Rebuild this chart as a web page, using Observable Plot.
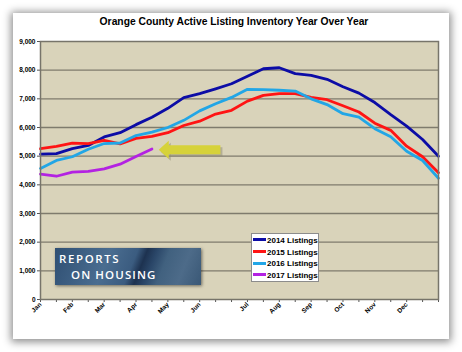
<!DOCTYPE html>
<html><head><meta charset="utf-8">
<script src="https://cdn.jsdelivr.net/npm/d3@7"></script>
<script src="https://cdn.jsdelivr.net/npm/@observablehq/plot@0.6"></script>
<style>
html,body{margin:0;padding:0;background:#fff;}
#wrap{position:relative;width:462px;height:352px;overflow:hidden;font-family:"Liberation Sans",Arial,sans-serif;}
#card{position:absolute;left:13px;top:13px;width:436px;height:326px;background:#fff;box-shadow:0 1px 8px 2px rgba(0,0,0,0.45);}
#title{position:relative;height:30px;box-sizing:border-box;padding-top:15px;padding-left:6px;text-align:center;font-size:10.3px;line-height:13px;font-weight:bold;color:#000;}
#chart{position:relative;}
#chart svg{display:block;overflow:visible;background:transparent;}
#legend{position:absolute;left:251px;top:233px;width:66px;height:47px;background:#fff;border:1px solid #8c8c8c;font-size:8px;font-weight:bold;color:#000;}
#legend .row{position:absolute;left:1px;height:10px;line-height:10px;white-space:nowrap;}
#legend .sw{display:inline-block;width:13px;height:3px;vertical-align:middle;margin-right:1px;position:relative;top:-1px;}
#logo{position:absolute;left:55px;top:248px;width:146px;height:37px;
 background:linear-gradient(112deg,#2f4f73 0%,#4a6d90 35%,#3b5c80 52%,#1d3250 58%,#2a4668 64%,#41617f 72%,#4d6b89 85%,#3a5876 100%);
 box-shadow:1px 1px 3px rgba(0,0,0,0.5);font-family:"Open Sans",sans-serif;font-weight:600;color:#fff;font-size:11.5px;letter-spacing:1.1px;}
#logo .l1{position:absolute;left:4px;top:3px;line-height:15px;letter-spacing:1.6px;}
#logo .l2{position:absolute;left:16px;top:19px;line-height:15px;}
</style></head>
<body>
<div id="wrap">
  <div id="card"></div>
  <div id="title">Orange County Active Listing Inventory Year Over Year</div>
  <div id="chart"></div>
  <div id="logo"><span class="l1">REPORTS</span><span class="l2">ON HOUSING</span></div>
  <div id="legend"></div>
</div>
<script>
// category labels (26 bi-weekly reporting periods)
const periods = ["Jan","","Feb","","Mar","","Apr","","May","","Jun","","","Jul","","Aug","","Sep","","Oct","","Nov","","Dec","",""];
const seriesNames = ["2014 Listings","2015 Listings","2016 Listings","2017 Listings"];
const seriesColors = ["#0c0ca6","#ff1414","#22a6e6","#b322e2"];
const y2014 = [5070,5090,5260,5375,5670,5820,6100,6360,6670,7040,7180,7350,7525,7790,8050,8085,7880,7820,7680,7420,7200,6870,6450,6050,5580,5000];
const y2015 = [5260,5340,5455,5440,5550,5430,5620,5690,5820,6070,6220,6470,6600,6920,7120,7180,7180,7050,6970,6760,6540,6150,5900,5350,4980,4420];
const y2016 = [4570,4850,4980,5240,5440,5460,5720,5840,6000,6250,6580,6830,7050,7330,7320,7300,7270,7000,6800,6480,6360,5960,5680,5170,4850,4230];
const y2017 = [4370,4300,4440,4470,4560,4720,4990,5250];
const yTicks = [0,1000,2000,3000,4000,5000,6000,7000,8000,9000];
// annotation arrow (category index, listing level)
const arrowNote = [{tail: 11.3, head: 8.0, tip: 7.74, level: 5220}];

const allSeries = [y2014, y2015, y2016, y2017];
const rows = [];
allSeries.forEach((vals, s) => vals.forEach((v, i) => rows.push({i, v, series: seriesNames[s]})));

const arrowHead = {
  draw(ctx) {
    ctx.moveTo(-5, 0);
    ctx.lineTo(5, -9);
    ctx.lineTo(5, 9);
    ctx.closePath();
  }
};

const chart = Plot.plot({
  width: 462,
  height: 322,
  marginLeft: 40,
  marginRight: 24,
  marginTop: 11,
  marginBottom: 53,
  style: {fontFamily: "'Liberation Sans', Arial, sans-serif", fontSize: "6.5px", fontWeight: "bold", background: "transparent", color: "#000"},
  x: {type: "linear", domain: [0, periods.length - 1]},
  y: {domain: [0, 9000]},
  color: {domain: seriesNames, range: seriesColors},
  marks: [
    Plot.frame({fill: "#d9d3ba", stroke: null}),
    Plot.gridY(yTicks.filter(d => d > 0 && d < 9000), {stroke: "#7f7b6d", strokeOpacity: 1, strokeWidth: 1.3}),
    Plot.axisY({ticks: yTicks, tickFormat: d3.format(","), tickSize: 3, tickPadding: 2, label: null, stroke: "#555"}),
    Plot.axisX({ticks: d3.range(periods.length), tickFormat: i => periods[i], tickRotate: -45, tickSize: 3, tickPadding: 1, label: null, stroke: "#555"}),
    // arrow shadow
    Plot.link(arrowNote, {x1: "tail", x2: "head", y1: "level", y2: "level", stroke: "#8d8a72", strokeOpacity: 0.5, strokeWidth: 9, dx: 2, dy: 2}),
    Plot.dot(arrowNote, {x: "tip", y: "level", symbol: arrowHead, fill: "#8d8a72", fillOpacity: 0.5, stroke: null, dx: 2, dy: 2}),
    // arrow
    Plot.link(arrowNote, {x1: "tail", x2: "head", y1: "level", y2: "level", stroke: "#d6d23a", strokeWidth: 9}),
    Plot.dot(arrowNote, {x: "tip", y: "level", symbol: arrowHead, fill: "#d6d23a", stroke: null}),
    Plot.line(rows, {x: "i", y: "v", z: "series", stroke: "series", strokeWidth: 2.8, strokeLinejoin: "round"}),
    Plot.frame({stroke: "#77746a", strokeWidth: 1.5})
  ]
});
document.getElementById("chart").appendChild(chart);

// legend
const legend = document.getElementById("legend");
seriesNames.forEach((name, k) => {
  const row = document.createElement("div");
  row.className = "row";
  row.style.top = (2 + k * 11.7) + "px";
  const sw = document.createElement("span");
  sw.className = "sw";
  sw.style.background = seriesColors[k];
  row.appendChild(sw);
  row.appendChild(document.createTextNode(name));
  legend.appendChild(row);
});
</script>
</body></html>
